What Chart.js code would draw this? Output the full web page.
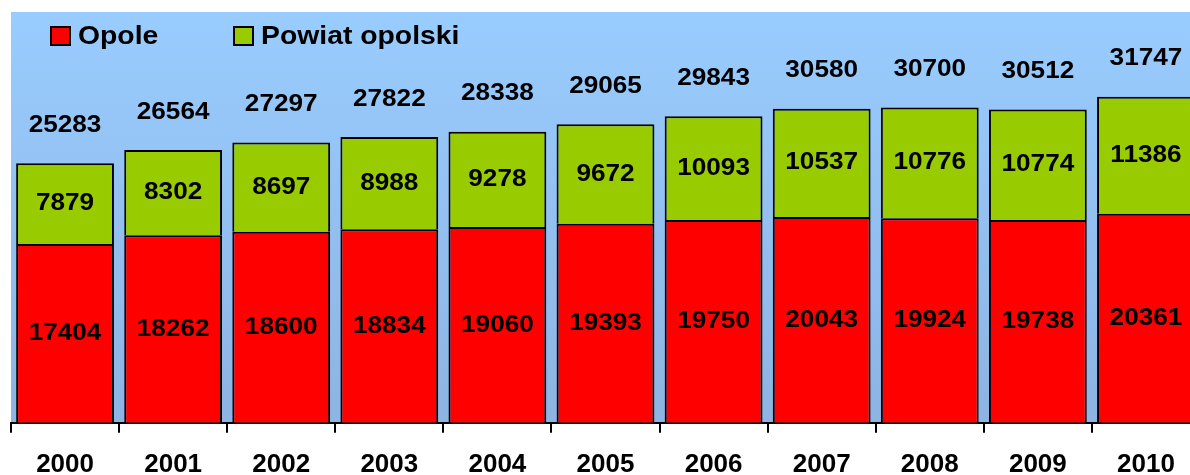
<!DOCTYPE html>
<html>
<head>
<meta charset="utf-8">
<script src="https://cdn.jsdelivr.net/npm/chart.js@4.4.0/dist/chart.umd.min.js"></script>
<style>
  html, body { margin: 0; padding: 0; background: #fff; overflow: hidden; }
  #wrap { width: 1190px; height: 475px; overflow: hidden; }
  canvas { display: block; }
</style>
</head>
<body>
<div id="wrap"><canvas id="wykres" width="1200" height="496"></canvas></div>
<script>
// dane
const lata = ["2000", "2001", "2002", "2003", "2004", "2005", "2006", "2007", "2008", "2009", "2010"];
const opole = [17404, 18262, 18600, 18834, 19060, 19393, 19750, 20043, 19924, 19738, 20361];
const powiat = [7879, 8302, 8697, 8988, 9278, 9672, 10093, 10537, 10776, 10774, 11386];
const razem = [25283, 26564, 27297, 27822, 28338, 29065, 29843, 30580, 30700, 30512, 31747];

const FONT = '"Liberation Sans", Arial, sans-serif';

// tekst lekko rozciagniety w poziomie, jak w oryginale
function napis(ctx, txt, x, y, size, align) {
  ctx.save();
  ctx.translate(x, y);
  ctx.scale(1.09, 1);
  ctx.font = `bold ${size}px ${FONT}`;
  ctx.textAlign = align || "center";
  ctx.textBaseline = "middle";
  ctx.fillStyle = "#000";
  ctx.fillText(txt, 0, 0);
  ctx.restore();
}

const tlo = {
  id: "tlo",
  beforeDraw(chart) {
    const { ctx, chartArea: a } = chart;
    const g = ctx.createLinearGradient(0, a.top, 0, a.bottom);
    g.addColorStop(0, "#99CCFF");
    g.addColorStop(1, "#8DB4E2");
    ctx.fillStyle = g;
    ctx.fillRect(a.left, a.top, a.right - a.left, a.bottom - a.top);
  }
};

const etykiety = {
  id: "etykiety",
  afterDatasetsDraw(chart) {
    const ctx = chart.ctx;
    chart.data.datasets.forEach((ds, i) => {
      const meta = chart.getDatasetMeta(i);
      meta.data.forEach((el, j) => {
        const p = el.getProps(["x", "y", "base"], true);
        napis(ctx, String(ds.data[j]), p.x, (p.y + p.base) / 2, 24);
      });
    });
    // sumy nad slupkami
    const gora = chart.getDatasetMeta(chart.data.datasets.length - 1);
    gora.data.forEach((el, j) => {
      const p = el.getProps(["x", "y"], true);
      napis(ctx, String(razem[j]), p.x, p.y - 38, 24);
    });
  }
};

const legenda = {
  id: "legenda",
  afterDraw(chart) {
    const ctx = chart.ctx;
    const pozycje = [50, 233];
    chart.data.datasets.forEach((ds, i) => {
      const x = pozycje[i];
      ctx.fillStyle = ds.backgroundColor;
      ctx.fillRect(x, 26, 21, 20);
      ctx.strokeStyle = "#000";
      ctx.lineWidth = 2;
      ctx.strokeRect(x + 1, 27, 19, 18);
      napis(ctx, ds.label, x + 28, 36.5, 26, "left");
    });
  }
};

new Chart(document.getElementById("wykres"), {
  type: "bar",
  data: {
    labels: lata,
    datasets: [
      { label: "Opole", data: opole, backgroundColor: "#FF0000", borderColor: "#000", borderWidth: 2 },
      { label: "Powiat opolski", data: powiat, backgroundColor: "#99CC00", borderColor: "#000", borderWidth: 2 }
    ]
  },
  options: {
    responsive: false,
    animation: false,
    layout: { padding: { top: 12, left: 11, right: 0, bottom: 0 } },
    datasets: { bar: { barPercentage: 0.905, categoryPercentage: 1 } },
    plugins: { legend: { display: false }, tooltip: { enabled: false } },
    scales: {
      x: {
        stacked: true,
        grid: { offset: true, drawOnChartArea: false, drawTicks: true, tickLength: 10, color: "#000", lineWidth: 2 },
        border: { display: true, color: "#000", width: 2 },
        ticks: { color: "#000", font: { family: FONT, size: 26, weight: "bold" }, padding: 16, maxRotation: 0, autoSkip: false }
      },
      y: { stacked: true, display: false, min: 0, max: 40000 }
    }
  },
  plugins: [tlo, etykiety, legenda]
});
</script>
</body>
</html>
